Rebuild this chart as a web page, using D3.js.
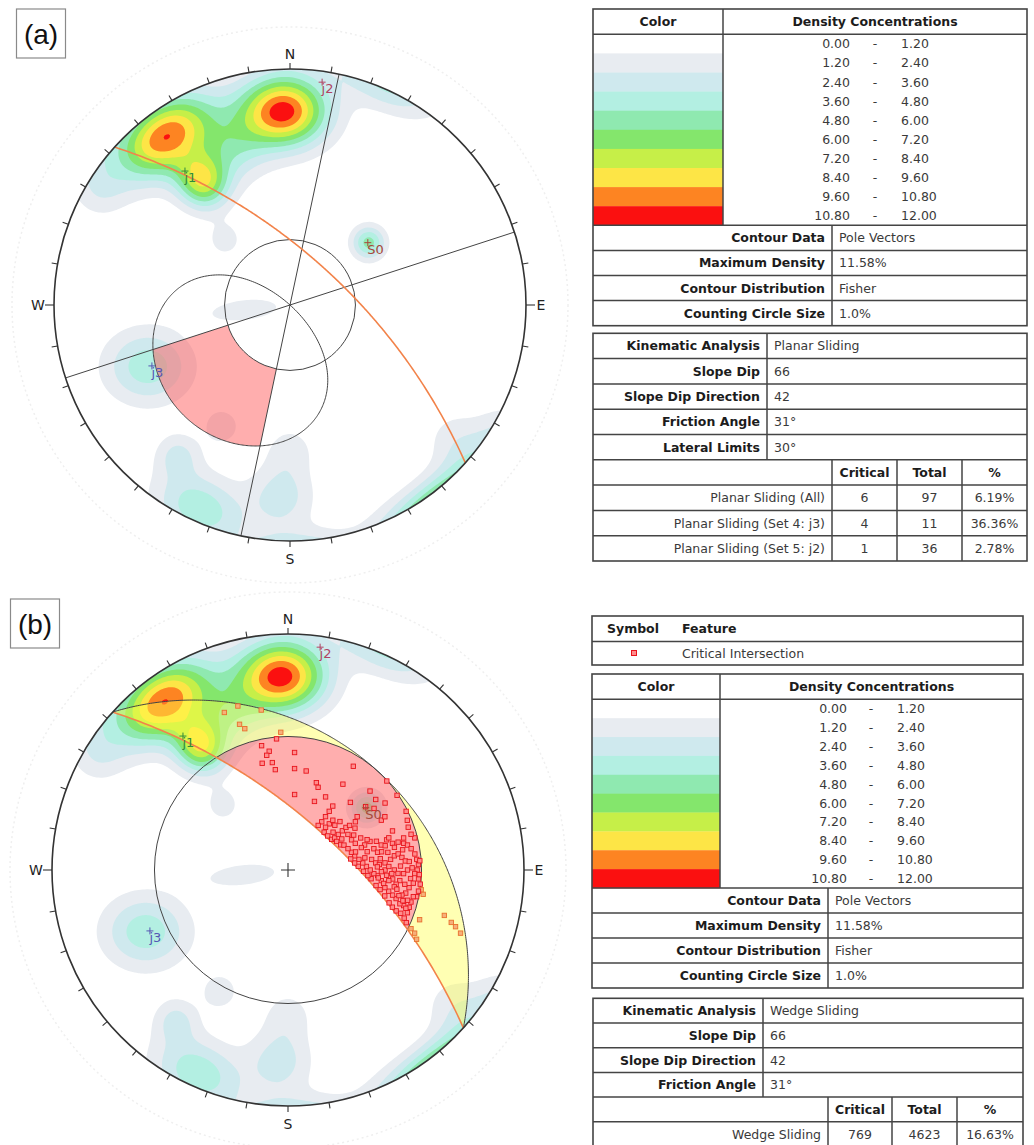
<!DOCTYPE html>
<html>
<head>
<meta charset="utf-8">
<script src="https://cdn.jsdelivr.net/npm/d3@7"></script>
<style>
  body { margin: 0; background: #fff; }
  svg { display: block; }
</style>
</head>
<body>
<svg id="fig" width="1034" height="1145"></svg>
<script>
// ---------------- data ----------------
// Density concentration bins (% of total per 1% area)
const densityBins = [[0.00, 1.20], [1.20, 2.40], [2.40, 3.60], [3.60, 4.80], [4.80, 6.00],
                     [6.00, 7.20], [7.20, 8.40], [8.40, 9.60], [9.60, 10.80], [10.80, 12.00]];
const binColors = ["#ffffff", "#e8ecf1", "#cfe9ee", "#b3efe2", "#8fe9b0",
                   "#84e66c", "#c6ef48", "#fde546", "#fd8422", "#fb1010"];

// Pole concentrations: trend, plunge, peak density %, spread along / across axis (deg),
// azimuth of the long axis (null = along the primitive)
const poleClusters = [
  [358.0, 11.2, 11.45, 12.8, 10.4, null],
  [323.4,  6.7, 10.62, 14.2,  9.2, null],
  [324.5, 24.6,  7.70,  8.6,  9.6, null],
  [339.0, 19.1,  3.60, 11.3, 11.3, null],
  [315.0, 47.4,  1.80,  7.6,  7.6, null],
  [301.2,  3.4,  1.90,  7.2,  7.2, null],
  [ 51.6, 43.9,  5.30,  7.0,  7.0, null],
  [246.6, 23.4,  4.40, 14.6, 12.5, 90],
  [263.7, 68.3,  1.95, 21.0,  6.5, 84],
  [204.0,  3.5,  4.50, 12.0,  8.6, null],
  [216.7, 13.1,  2.60,  6.5,  6.5, null],
  [182.5, 11.9,  3.00,  9.4,  9.4, null],
  [209.3, 29.0,  1.90,  7.2,  7.2, null],
  [180.0, 26.9,  1.70,  8.8,  8.8, null],
  [129.2,  5.6,  1.80,  8.0,  8.0, null]
];

// Mean set poles
const setMeans = [
  { name: "j1", trend: 321.9, plunge: 18.4, color: "#2f8a3c" },
  { name: "j2", trend: 8.2,   plunge: 2.7,  color: "#b04462" },
  { name: "S0", trend: 51.3,  plunge: 44.2, color: "#a8483a" },
  { name: "j3", trend: 246.2, plunge: 24.8, color: "#5656b4" }
];

// Slope and strength parameters
const slopeDip = 66, slopeDipDir = 42, frictionAngle = 31, lateralLimit = 30;

// Critical intersections (trend, plunge) inside the friction cone
const critPrimary = [
  [348,33.4],[355,31.7],[351,36.0],[349.5,37.4],[346.4,40.1],[351.7,40.6],[352.8,43.6],[3.2,37.0],[3.7,43.4],
  [10.4,43.8],[18,47.5],[20,49.1],[5,54.4],[21.1,55.4],[27.2,51.6],[32.6,43.3],[32.2,35.1],[48,31.2],[55.6,31.5],
  [42.7,47.4],[46.1,38.5],[51.2,39.0],[50.8,44.0],[54.4,41.7],[55.4,36.9],[52.4,49.4],[54.4,51.3],[61.9,41.7],
  [63.6,31.6],[67.4,32.6],[70.4,33.2],[35,53.4],[35.1,56.2],[35.1,59.1],[35,62.0],[34.1,64.3],[43.7,65.0],
  [49.4,65.0],[55,64.5],[55.5,63.0],[54.8,60.7],[54.2,58.3],[53.7,56.1],[54.1,54.3],[59.6,63.1],[64.5,62.2],
  [66,60.9],[59.3,57.1],[64.6,56.8],[68.4,55.9],[66.2,52.8],[71.9,52.3],[70.8,49.6],[76.1,48.9],[78.8,47.7],
  [75,45.5],[73,42.8],[75.7,40.9],[75.8,38.6],[77,36.6],[78.2,35.3],[80.2,34.2],[82.8,33.1],[85.3,32.6],
  [87.6,32.1],[90,32.6],[91.6,33.5],[93.9,32.0],[96.1,31.2],[99.2,31.5],[101.7,31.8],[104.6,33.4],[104.2,34.8],
  [107.1,35.7],[106.8,37.3],[104.8,39.3],[103.5,41.0],[101.9,42.9],[100.3,44.7],[96.5,46.6],[93.5,48.3],
  [92.4,50.0],[90,51.6],[87.4,53.2],[84.6,54.7],[81.5,56.2],[78,57.8],[74.4,58.8],[70.4,59.8],[82.8,50.7],
  [85.4,49.1],[86.6,47.6],[85.8,45.2],[84.1,42.8],[82.4,41.1],[81.7,39.5],[83.7,38.2],[85.6,37.0],[90,36.3],
  [91.8,37.8],[95.4,39.1],[97.5,40.4],[94.9,42.0],[93.1,44.6],[90,45.3],[88,43.7],[90,41.5],[91.8,40.0],
  [98.3,35.2],[101.1,36.1],[102.4,37.4],[107.1,33.5],[109.7,33.5],[112.5,33.9],[114,32.5],[110.7,37.8],
  [109.6,39.7],[108,41.5],[105,44],[102,46.5],[100,48.5],[96,51],[94,52.5],[91,54.5],[87,56.8],[84,58.3],
  [80,59.8],[69.5,39.4],[72.3,41.7],[61.2,39.8],[74.5,36.1],[75.8,32.0],[73.8,33.0],[41.8,60.6],[42,58.3],
  [46.3,59.3],[41.3,62.9],[88,39],[92,42.5],[96,43.5],[99,41],[103,38.5],[97,37],[94,35],[89,34.5],[86,35.5],
  [80,37.5],[78,40.5],[80,43.5],[79,46],[83,47],[88,48.5],[91,46.8],[95,48],[98,45.5],[100,39.8],[105,36.5],
  [108,34.6],[111,35.8],[102,33],[96,33.8],[92,31.8],[86,31.5],[76,44],[72,47],[69,50.5],[73,54],[77,52],
  [81,53.5],[75,57],[62,55],[58,53],[60,60.5],[50,62],[47,56.5]
];
// Critical intersections between the slope plane and the friction plane
const critSecondary = [
  [343,18],[350.5,21],[338,18.5],[341.6,23.9],[343,25.9],[357,29.4],[106.2,20.8],[107.8,18],[108.7,16.3],
  [110.1,14.2],[110.7,28.4],[100.2,29.6],[115.5,30],[118.3,26.5],[116.5,28.1],[98.4,30.6]
];

// Legend tables
const contourInfo = [["Contour Data", "Pole Vectors"], ["Maximum Density", "11.58%"],
                     ["Contour Distribution", "Fisher"], ["Counting Circle Size", "1.0%"]];
const planarInfo = [["Kinematic Analysis", "Planar Sliding"], ["Slope Dip", "66"], ["Slope Dip Direction", "42"],
                    ["Friction Angle", "31°"], ["Lateral Limits", "30°"]];
const planarCounts = [["Planar Sliding (All)", "6", "97", "6.19%"],
                      ["Planar Sliding (Set 4: j3)", "4", "11", "36.36%"],
                      ["Planar Sliding (Set 5: j2)", "1", "36", "2.78%"]];
const wedgeInfo = [["Kinematic Analysis", "Wedge Sliding"], ["Slope Dip", "66"], ["Slope Dip Direction", "42"],
                   ["Friction Angle", "31°"]];
const wedgeCounts = [["Wedge Sliding", "769", "4623", "16.63%"]];
const countHeader = ["Critical", "Total", "%"];

// ---------------- helpers ----------------
const FONT = "'DejaVu Sans', Verdana, sans-serif";
const R = 236;
const rad = d => d * Math.PI / 180;
const deg = r => r * 180 / Math.PI;
// equal-angle (stereographic) lower-hemisphere radius scale: tan(psi/2) -> px
const rScale = d3.scaleLinear().domain([0, 1]).range([0, R]);
function proj(trend, plunge) {
  const r = rScale(Math.tan(rad(90 - plunge) / 2));
  return [r * Math.sin(rad(trend)), -r * Math.cos(rad(trend))];
}
function apparentDip(dip, dipDir, t) {
  return deg(Math.atan(Math.tan(rad(dip)) * Math.cos(rad(t - dipDir))));
}
function greatCircle(dip, dipDir) {
  return d3.range(dipDir - 90, dipDir + 90.001, 0.5).map(t => proj(t, Math.max(0, apparentDip(dip, dipDir, t))));
}
const line = d3.line();

// density field (Fisher-like kernels, antipodal wrap across the primitive)
const clusterParams = poleClusters.map(([trend, plunge, peak, along, across, axis]) => {
  const [x, y] = proj(trend, plunge);
  const psi = rad(90 - plunge);
  const pxPerDeg = (R / 2) / Math.pow(Math.cos(psi / 2), 2) * Math.PI / 180;
  const az = rad(axis == null ? trend + 90 : axis);
  return { x, y, peak, sa: along * pxPerDeg, sb: across * pxPerDeg, ex: Math.sin(az), ey: -Math.cos(az) };
});
function kern(c, px, py) {
  const dx = px - c.x, dy = py - c.y;
  const a = (dx * c.ex + dy * c.ey) / c.sa;
  const b = (-dx * c.ey + dy * c.ex) / c.sb;
  return c.peak * Math.exp(-(a * a + b * b));
}
function density(px, py) {
  const r2 = px * px + py * py;
  let s = 0;
  const m = r2 > 1 ? -R * R / r2 : 0;
  const mx = px * m, my = py * m;
  for (const c of clusterParams) {
    s += kern(c, px, py);
    if (r2 > 1) s += kern(c, mx, my);
  }
  return s;
}
const n = 240, ext = 1.02 * R;
const gs = d3.scaleLinear().domain([0, n]).range([-ext, ext]);
const grid = new Float64Array(n * n);
for (let j = 0; j < n; j++) for (let i = 0; i < n; i++) grid[j * n + i] = density(gs(i + 0.5), gs(j + 0.5));
const thresholds = densityBins.slice(1).map(b => b[0]);
const contourSet = d3.contours().size([n, n]).thresholds(thresholds)(grid);
const contourPath = d3.geoPath(d3.geoTransform({ point(x, y) { this.stream.point(gs(x), gs(y)); } }));

// ---------------- drawing ----------------
const svg = d3.select("#fig");
svg.append("rect").attr("width", 1034).attr("height", 1145).attr("fill", "#fff");
const defs = svg.append("defs");

function stereonet(id, cx, cy, mode) {
  const g = svg.append("g").attr("transform", `translate(${cx},${cy})`);
  defs.append("clipPath").attr("id", "clip-" + id).append("circle").attr("r", R);

  // faint outer ring
  g.append("circle").attr("r", 278).attr("fill", "none").attr("stroke", "#efefef")
    .attr("stroke-width", 1.5).attr("stroke-dasharray", "2,3");

  const inner = g.append("g").attr("clip-path", `url(#clip-${id})`);
  inner.selectAll("path.ct").data(contourSet).join("path").attr("class", "ct")
    .attr("d", contourPath).attr("fill", (d, i) => binColors[i + 1]);

  if (mode === "planar") {
    // critical zone for planar sliding (poles)
    const a0 = slopeDipDir + 180 - lateralLimit, a1 = slopeDipDir + 180 + lateralLimit;
    const outer = d3.range(a0, a1 + 0.001, 0.5).map(a => proj(a, 90 - apparentDip(slopeDip, slopeDipDir, a - 180)));
    const innerArc = d3.range(a1, a0 - 0.001, -0.5).map(a => proj(a, 90 - frictionAngle));
    inner.append("path").attr("d", line(outer.concat(innerArc)) + "Z")
      .attr("fill", "#ff5252").attr("fill-opacity", 0.47);

    // lateral limits
    [a0, a1].forEach(a => {
      const p = proj(a, 0), q = proj(a + 180, 0);
      inner.append("line").attr("x1", p[0]).attr("y1", p[1]).attr("x2", q[0]).attr("y2", q[1])
        .attr("stroke", "#444").attr("stroke-width", 1);
    });
    // friction cone
    inner.append("circle").attr("r", rScale(Math.tan(rad(frictionAngle) / 2)))
      .attr("fill", "none").attr("stroke", "#444").attr("stroke-width", 1);
    // daylight envelope
    const env = d3.range(-90, 90.001, 0.5).map(o => {
      const t = slopeDipDir + o;
      return proj(t + 180, 90 - Math.max(0, apparentDip(slopeDip, slopeDipDir, t)));
    });
    inner.append("path").attr("d", line(env) + "Z").attr("fill", "none").attr("stroke", "#444").attr("stroke-width", 1);
  } else {
    // secondary zone between slope plane and friction plane, outside friction cone
    const rf = rScale(Math.tan(rad(90 - frictionAngle) / 2));
    const m = defs.append("mask").attr("id", "mask-" + id);
    m.append("rect").attr("x", -R - 10).attr("y", -R - 10).attr("width", 2 * R + 20).attr("height", 2 * R + 20).attr("fill", "#fff");
    m.append("circle").attr("r", rf).attr("fill", "#000");
    const gcS = greatCircle(slopeDip, slopeDipDir);
    const gcF = greatCircle(frictionAngle, slopeDipDir).reverse();
    inner.append("path").attr("d", line(gcS.concat(gcF)) + "Z").attr("mask", `url(#mask-${id})`)
      .attr("fill", "#ffff4a").attr("fill-opacity", 0.42);
    // primary critical zone
    const dt = deg(Math.acos(Math.tan(rad(frictionAngle)) / Math.tan(rad(slopeDip))));
    const t1 = slopeDipDir - dt, t2 = slopeDipDir + dt;
    const arcG = d3.range(t1, t2 + 0.001, 0.5).map(t => proj(t, apparentDip(slopeDip, slopeDipDir, t)));
    const arcF = d3.range(t2, t1 - 0.001, -0.5).map(t => proj(t, frictionAngle));
    inner.append("path").attr("d", line(arcG.concat(arcF)) + "Z").attr("fill", "#ff5252").attr("fill-opacity", 0.47);

    inner.append("circle").attr("r", rf).attr("fill", "none").attr("stroke", "#444").attr("stroke-width", 1);
    inner.append("path").attr("d", line(greatCircle(frictionAngle, slopeDipDir)))
      .attr("fill", "none").attr("stroke", "#444").attr("stroke-width", 1);
  }

  // slope face
  inner.append("path").attr("d", line(greatCircle(slopeDip, slopeDipDir)))
    .attr("fill", "none").attr("stroke", "#f2834a").attr("stroke-width", 1.6);

  if (mode === "wedge") {
    const sq = 4.4;
    g.selectAll("rect.sec").data(critSecondary).join("rect").attr("class", "sec")
      .attr("x", d => proj(d[0], d[1])[0] - sq / 2).attr("y", d => proj(d[0], d[1])[1] - sq / 2)
      .attr("width", sq).attr("height", sq).attr("fill", "#f6b07a").attr("stroke", "#e8702e").attr("stroke-width", 0.9);
    g.selectAll("rect.pri").data(critPrimary).join("rect").attr("class", "pri")
      .attr("x", d => proj(d[0], d[1])[0] - sq / 2).attr("y", d => proj(d[0], d[1])[1] - sq / 2)
      .attr("width", sq).attr("height", sq).attr("fill", "#ff8c8c").attr("stroke", "#e8141c").attr("stroke-width", 0.9);
    g.append("path").attr("d", "M-7,0H7M0,-7V7").attr("stroke", "#333").attr("stroke-width", 1.1);
  }

  // set means
  setMeans.forEach(s => {
    const [x, y] = proj(s.trend, s.plunge);
    g.append("path").attr("d", `M${x - 3.5},${y}H${x + 3.5}M${x},${y - 3.5}V${y + 3.5}`)
      .attr("stroke", s.color).attr("stroke-width", 1);
    g.append("text").attr("x", x - 0.5).attr("y", y + 11).attr("font-family", FONT).attr("font-size", 13)
      .attr("fill", s.color).text(s.name);
  });

  // primitive and ticks
  g.append("circle").attr("r", R).attr("fill", "none").attr("stroke", "#333").attr("stroke-width", 1.6);
  d3.range(0, 360, 10).forEach(a => {
    const len = (a % 90 === 0) ? (a % 180 === 0 ? 6 : 9) : 6;
    const s = Math.sin(rad(a)), c = -Math.cos(rad(a));
    g.append("line").attr("x1", R * s).attr("y1", R * c).attr("x2", (R + len) * s).attr("y2", (R + len) * c)
      .attr("stroke", "#333").attr("stroke-width", 1.1);
  });
  const lab = g.append("g").attr("font-family", FONT).attr("font-size", 14).attr("fill", "#222")
    .attr("text-anchor", "middle").attr("dominant-baseline", "central");
  lab.append("text").attr("x", 0).attr("y", -R - 15).text("N");
  lab.append("text").attr("x", 0).attr("y", R + 18).text("S");
  lab.append("text").attr("x", -R - 16).attr("y", 0).text("W");
  lab.append("text").attr("x", R + 15).attr("y", 0).text("E");
}

function panelLabel(x, y, txt) {
  svg.append("rect").attr("x", x).attr("y", y).attr("width", 49).attr("height", 49)
    .attr("fill", "#fff").attr("stroke", "#8a8a8a").attr("stroke-width", 1.2);
  svg.append("text").attr("x", x + 24.5).attr("y", y + 25).attr("text-anchor", "middle")
    .attr("dominant-baseline", "central").attr("font-family", "'Liberation Sans', Arial, sans-serif")
    .attr("font-size", 28).attr("fill", "#111").text(txt);
}

stereonet("a", 290, 305, "planar");
stereonet("b", 288, 870, "wedge");
panelLabel(16.5, 9, "(a)");
panelLabel(10.5, 599, "(b)");

// ---------------- tables ----------------
const LINE = "#444";
function tg() {
  return svg.append("g").attr("font-family", FONT).attr("font-size", 12.5);
}
function hline(g, x0, x1, y) { g.append("line").attr("x1", x0).attr("x2", x1).attr("y1", y).attr("y2", y).attr("stroke", LINE).attr("stroke-width", 1.5); }
function vline(g, x, y0, y1) { g.append("line").attr("x1", x).attr("x2", x).attr("y1", y0).attr("y2", y1).attr("stroke", LINE).attr("stroke-width", 1.5); }
function txt(g, x, y, s, anchor, bold) {
  g.append("text").attr("x", x).attr("y", y).attr("dominant-baseline", "central").attr("text-anchor", anchor)
    .attr("font-weight", bold ? "bold" : "normal").attr("fill", bold ? "#1c1c1c" : "#3a3a3a").text(s);
}

function densityTable(x0, x1, xs, yTop, headH, rowH, infoH, xInfo, vx) {
  const g = tg();
  const yRows = yTop + headH;
  densityBins.forEach((b, i) => {
    g.append("rect").attr("x", x0).attr("y", yRows + i * rowH).attr("width", xs - x0).attr("height", rowH + 0.3)
      .attr("fill", binColors[i]);
    const y = yRows + (i + 0.5) * rowH;
    txt(g, vx[0], y, b[0].toFixed(2), "end", false);
    txt(g, vx[1], y, "-", "middle", false);
    txt(g, vx[2], y, b[1].toFixed(2), "start", false);
  });
  txt(g, (x0 + xs) / 2, yTop + headH / 2, "Color", "middle", true);
  txt(g, (xs + x1) / 2, yTop + headH / 2, "Density Concentrations", "middle", true);
  const yInfo = yRows + densityBins.length * rowH;
  contourInfo.forEach((r, i) => {
    const y = yInfo + (i + 0.5) * infoH;
    txt(g, xInfo - 7, y, r[0], "end", true);
    txt(g, xInfo + 7, y, r[1], "start", false);
  });
  const yBot = yInfo + contourInfo.length * infoH;
  g.append("rect").attr("x", x0).attr("y", yTop).attr("width", x1 - x0).attr("height", yBot - yTop)
    .attr("fill", "none").attr("stroke", LINE).attr("stroke-width", 1.6);
  hline(g, x0, x1, yRows);
  vline(g, xs, yTop, yInfo);
  for (let i = 0; i < contourInfo.length; i++) hline(g, x0, x1, yInfo + i * infoH);
  vline(g, xInfo, yInfo, yBot);
}

function kinematicTable(x0, x1, xs, cols, yTop, rowH, info, counts) {
  const g = tg();
  info.forEach((r, i) => {
    const y = yTop + (i + 0.5) * rowH;
    txt(g, xs - 7, y, r[0], "end", true);
    txt(g, xs + 7, y, r[1], "start", false);
  });
  const yH = yTop + info.length * rowH;
  countHeader.forEach((h, k) => txt(g, (cols[k + 1] + cols[k + 2]) / 2, yH + rowH / 2, h, "middle", true));
  counts.forEach((r, i) => {
    const y = yH + (i + 1.5) * rowH;
    txt(g, cols[1] - 7, y, r[0], "end", false);
    for (let k = 1; k < 4; k++) txt(g, (cols[k] + cols[k + 1]) / 2, y, r[k], "middle", false);
  });
  const yBot = yH + (counts.length + 1) * rowH;
  g.append("rect").attr("x", x0).attr("y", yTop).attr("width", x1 - x0).attr("height", yBot - yTop)
    .attr("fill", "none").attr("stroke", LINE).attr("stroke-width", 1.6);
  for (let i = 1; i <= info.length + counts.length; i++) hline(g, x0, x1, yTop + i * rowH);
  vline(g, xs, yTop, yH);
  [cols[1], cols[2], cols[3]].forEach(x => vline(g, x, yH, yBot));
}

// (a) tables
densityTable(593, 1027, 723, 9, 25.3, 19.1, 25.1, 832, [850, 875, 901]);
kinematicTable(593, 1027, 767, [593, 832, 897, 962, 1027], 333.3, 25.3, planarInfo, planarCounts);

// (b) tables
(function symbolTable() {
  const g = tg();
  const x0 = 592, x1 = 1023, y0 = 616, y1 = 641.5, y2 = 665;
  txt(g, 607, (y0 + y1) / 2, "Symbol", "start", true);
  txt(g, 682, (y0 + y1) / 2, "Feature", "start", true);
  g.append("rect").attr("x", 631.5).attr("y", 650.5).attr("width", 5).attr("height", 5)
    .attr("fill", "#ff8c8c").attr("stroke", "#e8141c").attr("stroke-width", 1);
  txt(g, 682, (y1 + y2) / 2, "Critical Intersection", "start", false);
  g.append("rect").attr("x", x0).attr("y", y0).attr("width", x1 - x0).attr("height", y2 - y0)
    .attr("fill", "none").attr("stroke", LINE).attr("stroke-width", 1.6);
  hline(g, x0, x1, y1);
})();
densityTable(592, 1023, 720, 674, 25.3, 18.87, 25, 828, [847, 871, 897]);
kinematicTable(593, 1023, 763, [593, 828, 892, 957, 1023], 998.3, 24.7, wedgeInfo, wedgeCounts);
</script>
</body>
</html>
